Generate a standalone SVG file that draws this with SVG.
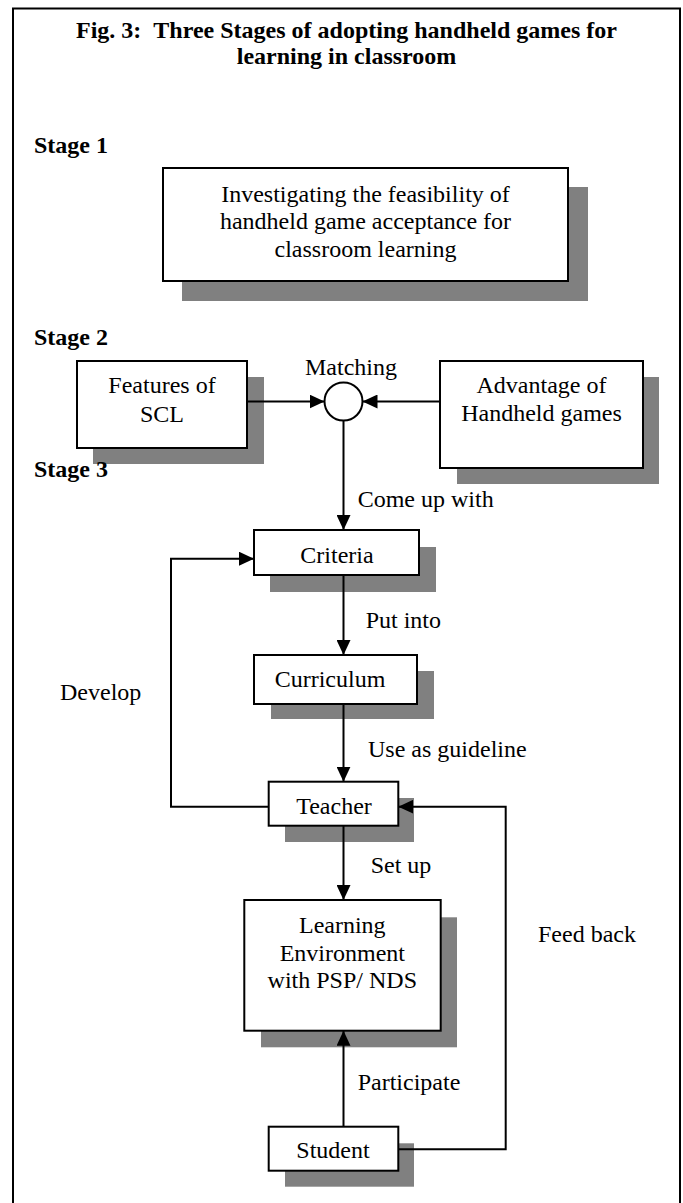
<svg xmlns="http://www.w3.org/2000/svg" width="683" height="1203" viewBox="0 0 683 1203">
<defs>
<marker id="arr" markerUnits="userSpaceOnUse" markerWidth="15" markerHeight="14" refX="15" refY="7" orient="auto">
<path d="M0,0 L15,7 L0,14 z" fill="#000"/>
</marker>
<style>
.box{fill:#fff;stroke:#000;stroke-width:2}
.sh{fill:#808080}
.t{font-family:"Liberation Serif","Times New Roman",serif;font-size:24px;fill:#000}
.c{text-anchor:middle}
.b{font-weight:bold}
.ln{fill:none;stroke:#000;stroke-width:2}
</style>
</defs>
<rect x="0" y="0" width="683" height="1203" fill="#fff"/>
<path d="M13,1210 V8.5 H680 V1210" fill="none" stroke="#000" stroke-width="2"/>
<g id="title">
<text class="t c b" x="346.5" y="38">Fig. 3: &#160;Three Stages of adopting handheld games for</text>
<text class="t c b" x="346.5" y="64">learning in classroom</text>
</g>
<g id="features">
<rect class="sh" x="93" y="377" width="171" height="87"/>
<rect class="box" x="77" y="361" width="170" height="87"/>
<text class="t c" x="162" y="393.3">Features of</text>
<text class="t c" x="162" y="421.7">SCL</text>
</g>
<g id="stage-labels">
<text class="t b" x="34" y="153">Stage 1</text>
<text class="t b" x="34" y="345">Stage 2</text>
<text class="t b" x="34" y="477">Stage 3</text>
</g>
<g id="stage1">
<rect class="sh" x="182" y="187" width="406" height="114"/>
<rect class="box" x="163" y="168" width="405" height="113"/>
<text class="t c" x="365.5" y="201.5">Investigating the feasibility of</text>
<text class="t c" x="365.5" y="229">handheld game acceptance for</text>
<text class="t c" x="365.5" y="256.5">classroom learning</text>
</g>
<g id="advantage">
<rect class="sh" x="457" y="377" width="202" height="107"/>
<rect class="box" x="440" y="361" width="203" height="107"/>
<text class="t c" x="541.5" y="392.7">Advantage of</text>
<text class="t c" x="541.5" y="420.7">Handheld games</text>
</g>
<g id="matching">
<circle class="box" cx="343.5" cy="401.5" r="19"/>
<text class="t c" x="351" y="375">Matching</text>
</g>
<g id="criteria">
<rect class="sh" x="270" y="547" width="166" height="45"/>
<rect class="box" x="254" y="530" width="165" height="45"/>
<text class="t c" x="337" y="562.7">Criteria</text>
</g>
<g id="curriculum">
<rect class="sh" x="271" y="671" width="163" height="48"/>
<rect class="box" x="254" y="655" width="163" height="49"/>
<text class="t c" x="330" y="686.7">Curriculum</text>
</g>
<g id="teacher">
<rect class="sh" x="285" y="798" width="129" height="44"/>
<rect class="box" x="268.7" y="781.7" width="129.6" height="44"/>
<text class="t c" x="334" y="814.3">Teacher</text>
</g>
<g id="learning-env">
<rect class="sh" x="261" y="917.3" width="196" height="130"/>
<rect class="box" x="244.3" y="900" width="196.4" height="130.7"/>
<text class="t c" x="342.3" y="933.3">Learning</text>
<text class="t c" x="342.3" y="961">Environment</text>
<text class="t c" x="342.3" y="988.3">with PSP/ NDS</text>
</g>
<g id="student">
<rect class="sh" x="285" y="1143.3" width="129" height="43.4"/>
<rect class="box" x="268.7" y="1126.7" width="129.6" height="44"/>
<text class="t c" x="333" y="1158.3">Student</text>
</g>
<g id="connectors">
<line class="ln" x1="247" y1="401.5" x2="324.5" y2="401.5" marker-end="url(#arr)"/>
<line class="ln" x1="440" y1="401.5" x2="362.5" y2="401.5" marker-end="url(#arr)"/>
<line class="ln" x1="343.5" y1="420.5" x2="343.5" y2="530" marker-end="url(#arr)"/>
<line class="ln" x1="343.5" y1="575" x2="343.5" y2="655" marker-end="url(#arr)"/>
<line class="ln" x1="343.5" y1="704" x2="343.5" y2="781.7" marker-end="url(#arr)"/>
<path class="ln" d="M268.7,806.7 H171 V558.7 H254" marker-end="url(#arr)"/>
<line class="ln" x1="343.5" y1="825.7" x2="343.5" y2="900" marker-end="url(#arr)"/>
<line class="ln" x1="343.5" y1="1126.7" x2="343.5" y2="1030.7" marker-end="url(#arr)"/>
<path class="ln" d="M398.3,1149.3 H505.7 V806.7 H398.3" marker-end="url(#arr)"/>
<text class="t" x="357.7" y="506.7">Come up with</text>
<text class="t" x="365.7" y="628">Put into</text>
<text class="t" x="368" y="756.7">Use as guideline</text>
<text class="t" x="60" y="700">Develop</text>
<text class="t" x="370.7" y="872.7">Set up</text>
<text class="t" x="538" y="941.7">Feed back</text>
<text class="t" x="357.7" y="1090">Participate</text>
</g>
</svg>
